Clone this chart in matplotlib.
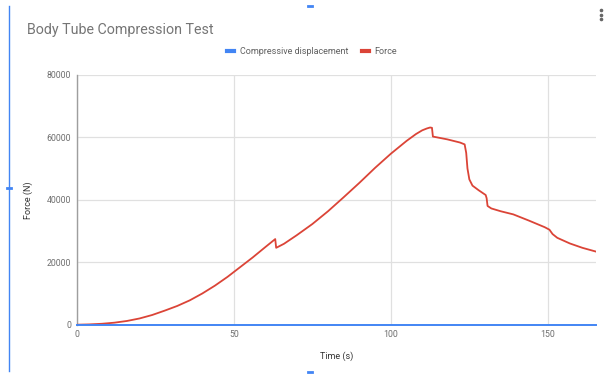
import matplotlib.pyplot as plt
from matplotlib.lines import Line2D

plt.rcParams['font.family'] = ['Roboto', 'DejaVu Sans']

# force curve (time in s, force in N)
time_s = [0, 4, 8, 12, 16, 20, 24, 28, 32, 36, 40, 44, 48, 52, 56, 60, 63.2, 63.5, 66, 70,
          75, 80, 85, 90, 95, 100, 105, 108, 110, 111.5, 112.5, 113.1, 113.4, 118, 122,
          123.5, 124.0, 124.4, 125.0, 126, 128, 130.2, 130.5, 130.8, 132, 135, 139, 144,
          149, 150.5, 151.5, 153, 157, 161, 165.3]
force_n = [0, 100, 300, 650, 1200, 2000, 3100, 4500, 6000, 7800, 10000, 12500, 15300,
           18400, 21500, 24800, 27400, 24600, 25900, 28600, 32200, 36300, 40800, 45400,
           50200, 54700, 58800, 61000, 62200, 62800, 63100, 63000, 60200, 59300, 58300,
           57700, 55000, 50000, 46500, 44500, 43000, 41500, 40500, 38000, 37200, 36300,
           35300, 33300, 31200, 30400, 29000, 27800, 26000, 24600, 23400]

# displacement series sits on the zero line at this scale
disp_t = [0, 165.3]
disp_val = [0, 0]

x_ticks = [0, 50, 100, 150]
y_ticks = [0, 20000, 40000, 60000, 80000]

RED = '#db4437'
BLUE = '#4285f4'
GRID = '#e0e0e0'
TXT = '#757575'

fig = plt.figure(figsize=(6.05, 3.77), dpi=100)
ax = fig.add_axes([0.1268, 0.1387, 0.985 - 0.1268, 0.8019 - 0.1387])

ax.plot(time_s, force_n, color=RED, lw=1.3, zorder=3)
ax.plot(disp_t, disp_val, color=BLUE, lw=1.4, zorder=4, clip_on=False)

ax.set_xlim(0, 165.3)
ax.set_ylim(0, 80000)
ax.set_xticks(x_ticks)
ax.set_yticks(y_ticks)
ax.grid(True, color=GRID, lw=0.9)
ax.set_axisbelow(True)
for s in ['top', 'right', 'bottom']:
    ax.spines[s].set_visible(False)
ax.spines['left'].set_color('#9e9e9e')
ax.spines['left'].set_linewidth(1.0)
ax.tick_params(length=0, labelsize=6.3, labelcolor='#6f6f6f', pad=4)

ax.set_xlabel('Time (s)', fontsize=6.5, color='#333333', labelpad=9)
ax.set_ylabel('Force (N)', fontsize=6.5, color='#333333', labelpad=10)

fig.text(27 / 605, 1 - 30 / 377, 'Body Tube Compression Test', fontsize=10.3,
         color=TXT, va='center', ha='left')

handles = [Line2D([], [], color=BLUE, lw=3), Line2D([], [], color=RED, lw=3)]
fig.legend(handles, ['Compressive displacement', 'Force'], loc='center',
           bbox_to_anchor=(312 / 605, 1 - 52 / 377), ncol=2, frameon=False,
           fontsize=6.5, handlelength=0.8, handletextpad=0.6, columnspacing=1.5,
           labelcolor='#5f5f5f')

# selection frame markers and menu dots around the chart
fig.add_artist(Line2D([8.5 / 605, 8.5 / 605], [1 - 6 / 377, 1 - 371 / 377],
                      color=BLUE, lw=1.0))
for (px, py) in [(310, 6), (8.5, 188), (310, 372)]:
    fig.add_artist(Line2D([(px - 2) / 605, (px + 2) / 605], [1 - py / 377, 1 - py / 377],
                          color=BLUE, lw=2.0))
for py in [10, 14.5, 19]:
    fig.add_artist(Line2D([601 / 605], [1 - py / 377], marker='o', ms=1.6,
                          color='#666666', lw=0))

fig.savefig('out.png', dpi=100)
